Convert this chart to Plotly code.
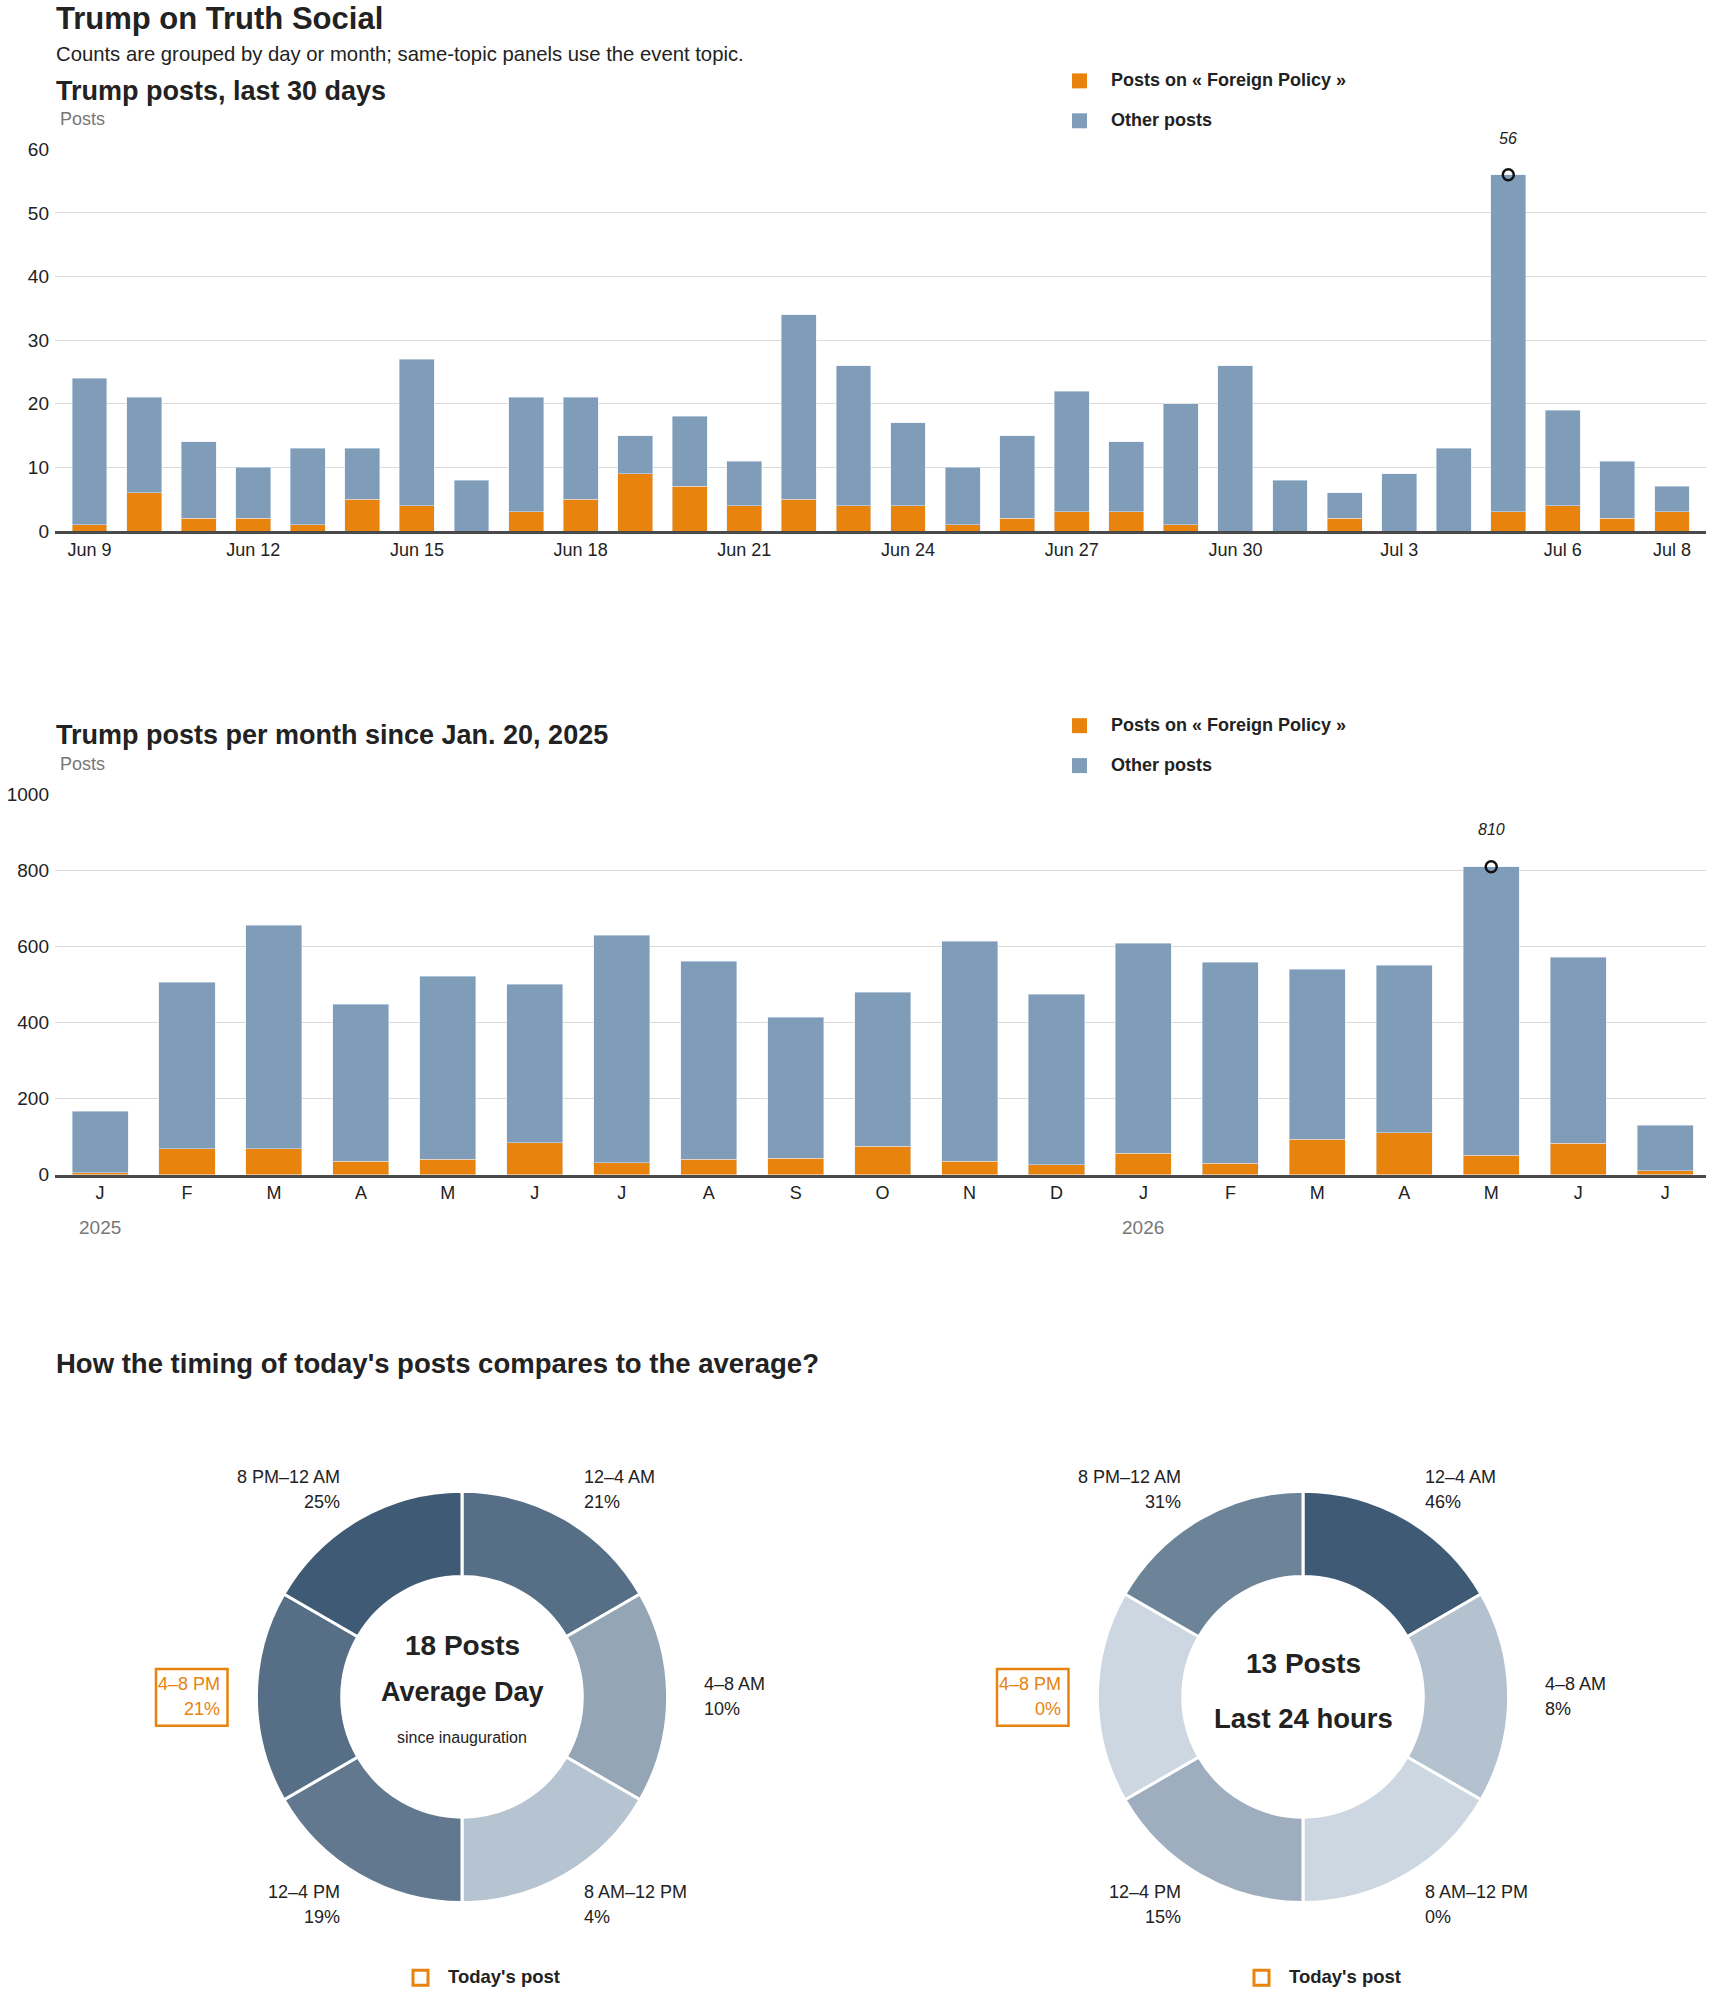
import math
import plotly.graph_objects as go

W, H = 1710, 1993

# ---------------- data ----------------
day_labels = ["Jun 9", "Jun 10", "Jun 11", "Jun 12", "Jun 13", "Jun 14", "Jun 15", "Jun 16",
              "Jun 17", "Jun 18", "Jun 19", "Jun 20", "Jun 21", "Jun 22", "Jun 23", "Jun 24",
              "Jun 25", "Jun 26", "Jun 27", "Jun 28", "Jun 29", "Jun 30", "Jul 1", "Jul 2",
              "Jul 3", "Jul 4", "Jul 5", "Jul 6", "Jul 7", "Jul 8"]
daily_total = [24, 21, 14, 10, 13, 13, 27, 8, 21, 21, 15, 18, 11, 34, 26, 17,
               10, 15, 22, 14, 20, 26, 8, 6, 9, 13, 56, 19, 11, 7]
daily_foreign = [1, 6, 2, 2, 1, 5, 4, 0, 3, 5, 9, 7, 4, 5, 4, 4,
                 1, 2, 3, 3, 1, 0, 0, 2, 0, 0, 3, 4, 2, 3]
daily_tick_labels = ["Jun 9", "Jun 12", "Jun 15", "Jun 18", "Jun 21", "Jun 24",
                     "Jun 27", "Jun 30", "Jul 3", "Jul 6", "Jul 8"]

month_labels = ["J", "F", "M", "A", "M", "J", "J", "A", "S", "O", "N", "D",
                "J", "F", "M", "A", "M", "J", "J"]
month_years = ["2025"] * 12 + ["2026"] * 7
monthly_total = [167, 506, 656, 448, 522, 501, 630, 561, 414, 480, 614, 475,
                 609, 559, 540, 551, 810, 572, 130]
monthly_foreign = [6, 68, 68, 36, 41, 85, 32, 41, 43, 75, 36, 27,
                   57, 31, 94, 111, 52, 83, 11]

slots = ["12–4 AM", "4–8 AM", "8 AM–12 PM", "12–4 PM", "4–8 PM", "8 PM–12 AM"]
slot_hours = [4, 4, 4, 4, 4, 4]
avg_pct = [21, 10, 4, 19, 21, 25]
today_pct = [46, 8, 0, 15, 0, 31]
avg_posts = 18
today_posts = 13
today_slot = "4–8 PM"

topic = "Foreign Policy"

# ---------------- style ----------------
ORANGE = "#E8830E"
BLUE = "#7F9DB9"
TXT = "#222222"
GRAY = "#777777"
GRID = "#DADADA"
FONT = "Liberation Sans, Arial, sans-serif"
NARROW = "Liberation Sans Narrow, Arial Narrow, Liberation Sans, sans-serif"
LIGHT = (205, 215, 225)
DARK = (63, 90, 117)


def px(x):
    return x / W


def py(y):
    # target pixel row -> paper fraction (compensates page offset seen in render)
    ys = (y - 7) / 0.9913
    return 1 - ys / H


def shade(p, pmax):
    t = p / pmax if pmax else 0
    c = [round(LIGHT[i] + (DARK[i] - LIGHT[i]) * t) for i in range(3)]
    return "rgb(%d,%d,%d)" % tuple(c)


daily_other = [t - f for t, f in zip(daily_total, daily_foreign)]
monthly_other = [t - f for t, f in zip(monthly_total, monthly_foreign)]
dx = list(range(len(day_labels)))
mx = list(range(len(month_labels)))

fig = go.Figure()

# daily bars
fig.add_trace(go.Bar(x=dx, y=daily_foreign, marker_color=ORANGE, width=0.64,
                     xaxis="x", yaxis="y", hoverinfo="skip"))
fig.add_trace(go.Bar(x=dx, y=daily_other, marker_color=BLUE, width=0.64,
                     xaxis="x", yaxis="y", hoverinfo="skip"))
dmax_i = max(dx, key=lambda i: daily_total[i])
fig.add_trace(go.Scatter(x=[dmax_i], y=[daily_total[dmax_i]], mode="markers",
                         marker=dict(symbol="circle-open", size=11, color="#111",
                                     line=dict(width=2.5, color="#111")),
                         xaxis="x", yaxis="y", hoverinfo="skip"))

# monthly bars
fig.add_trace(go.Bar(x=mx, y=monthly_foreign, marker_color=ORANGE, width=0.645,
                     xaxis="x2", yaxis="y2", hoverinfo="skip"))
fig.add_trace(go.Bar(x=mx, y=monthly_other, marker_color=BLUE, width=0.645,
                     xaxis="x2", yaxis="y2", hoverinfo="skip"))
mmax_i = max(mx, key=lambda i: monthly_total[i])
fig.add_trace(go.Scatter(x=[mmax_i], y=[monthly_total[mmax_i]], mode="markers",
                         marker=dict(symbol="circle-open", size=11, color="#111",
                                     line=dict(width=2.5, color="#111")),
                         xaxis="x2", yaxis="y2", hoverinfo="skip"))

# donuts
R = 206
centers = [(462, 1697), (1303, 1697)]
for (cx, cy), pcts in zip(centers, [avg_pct, today_pct]):
    pm = max(pcts)
    fig.add_trace(go.Pie(values=slot_hours, labels=slots, hole=0.585, sort=False,
                         direction="clockwise", rotation=0, textinfo="none",
                         hoverinfo="skip",
                         marker=dict(colors=[shade(p, pm) for p in pcts],
                                     line=dict(color="white", width=3)),
                         domain=dict(x=[px(cx - R), px(cx + R)],
                                     y=[py(cy + R), py(cy - R)])))

axis_common = dict(showgrid=False, zeroline=False, ticks="", showline=True,
                   linecolor="#4A4A4A", linewidth=3,
                   tickfont=dict(family=FONT, size=18, color=TXT))
yaxis_common = dict(showgrid=True, gridcolor=GRID, gridwidth=1, zeroline=False,
                    ticks="", showline=False, ticklabelstandoff=5,
                    tickfont=dict(family=FONT, size=19, color=TXT))

daily_tickvals = [day_labels.index(l) for l in daily_tick_labels]

fig.update_layout(
    width=W, height=H, margin=dict(l=0, r=0, t=0, b=0),
    paper_bgcolor="white", plot_bgcolor="white",
    showlegend=False, barmode="stack", bargap=0.36,
    font=dict(family=FONT, color=TXT),
    xaxis=dict(domain=[px(55), px(1706)], range=[-0.632, 29.623], anchor="y",
               tickvals=daily_tickvals, ticktext=daily_tick_labels, **axis_common),
    yaxis=dict(domain=[py(529), py(146.5)], range=[0, 60], dtick=10, anchor="x",
               **yaxis_common),
    xaxis2=dict(domain=[px(55), px(1706)], range=[-0.518, 18.47], anchor="y2",
                tickvals=mx, ticktext=month_labels, **axis_common),
    yaxis2=dict(domain=[py(1174), py(793)], range=[0, 1000], dtick=200, anchor="x2",
                **yaxis_common),
)

ann = []
shapes = []


def text(t, x, y, size, color=TXT, weight="normal", xanchor="left", family=FONT,
         style="normal"):
    ann.append(dict(text=t, x=px(x), y=py(y), xref="paper", yref="paper",
                    xanchor=xanchor, yanchor="middle", showarrow=False,
                    font=dict(family=family, size=size, color=color,
                              weight=weight, style=style)))


# titles
text("Trump on Truth Social", 54, 16, 31, weight="bold")
text("Counts are grouped by day or month; same-topic panels use the event topic.",
     54, 51, 20.3)
text("Trump posts, last 30 days", 54, 88, 27, weight="bold")
text("Posts", 58, 116, 18, color=GRAY)
text("Trump posts per month since Jan. 20, 2025", 54, 733, 27, weight="bold")
text("Posts", 58, 762, 18, color=GRAY)
text("How the timing of today's posts compares to the average?", 54, 1363, 27.5,
     weight="bold")

# legends for bar charts
for ly in (78, 724):
    for off, col, lab in ((0, ORANGE, "Posts on « %s »" % topic), (40, BLUE, "Other posts")):
        shapes.append(dict(type="rect", xref="paper", yref="paper",
                           x0=px(1072), x1=px(1087), y0=py(ly + off - 7.5),
                           y1=py(ly + off + 7.5), fillcolor=col, line=dict(width=0)))
        text(lab, 1109, ly + off - 1, 18, weight="bold")

# peak labels
ann.append(dict(text=str(daily_total[dmax_i]), x=dmax_i, y=daily_total[dmax_i],
                xref="x", yref="y", yshift=36, showarrow=False,
                font=dict(family=NARROW, size=16, color=TXT, style="italic")))
ann.append(dict(text=str(monthly_total[mmax_i]), x=mmax_i, y=monthly_total[mmax_i],
                xref="x2", yref="y2", yshift=37, showarrow=False,
                font=dict(family=NARROW, size=16, color=TXT, style="italic")))

# year labels
seen = set()
for i, yr in enumerate(month_years):
    if yr not in seen:
        seen.add(yr)
        ann.append(dict(text=yr, x=i, y=py(1227), xref="x2", yref="paper",
                        yanchor="middle", showarrow=False,
                        font=dict(family=FONT, size=19, color=GRAY)))

# donut labels
center_texts = [
    [("%d Posts" % avg_posts, -51, 28, "bold"), ("Average Day", -5, 27, "bold"),
     ("since inauguration", 41, 16, "normal")],
    [("%d Posts" % today_posts, -33, 28, "bold"), ("Last 24 hours", 22, 27.5, "bold")],
]
for (cx, cy), pcts, ctexts in zip(centers, [avg_pct, today_pct], center_texts):
    for i, (slot, p) in enumerate(zip(slots, pcts)):
        a = math.radians(30 + 60 * i)
        lx = cx + 240 * math.sin(a)
        ly = cy - 240 * math.cos(a)
        right = math.sin(a) > 0
        hl = slot == today_slot
        col = ORANGE if hl else TXT
        xa = "left" if right else "right"
        text(slot, lx, ly - 12.5, 18, color=col, xanchor=xa)
        text("%d%%" % p, lx, ly + 12.5, 18, color=col, xanchor=xa)
        if hl:
            shapes.append(dict(type="rect", xref="paper", yref="paper",
                               x0=px(lx - 66), x1=px(lx + 5.5),
                               y0=py(ly + 29), y1=py(ly - 28),
                               line=dict(color=ORANGE, width=2.5)))
    for t, dy, sz, wt in ctexts:
        text(t, cx, cy + dy, sz, weight=wt, xanchor="center")
    # today's post legend
    shapes.append(dict(type="rect", xref="paper", yref="paper",
                       x0=px(cx - 49), x1=px(cx - 34), y0=py(1986), y1=py(1971),
                       line=dict(color=ORANGE, width=3)))
    text("Today's post", cx - 16, 1977, 18.5, weight="bold")

fig.update_layout(annotations=ann, shapes=shapes)
fig.write_html("out.html")
